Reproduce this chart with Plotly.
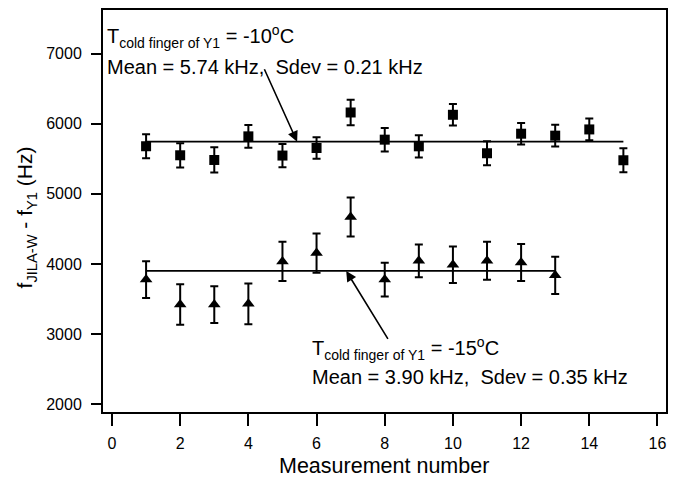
import plotly.graph_objects as go

# --- data ---
sq_x = list(range(1, 16))
sq_y = [5680, 5551, 5484, 5821, 5547, 5655, 6162, 5774, 5679, 6129, 5580, 5859, 5831, 5920, 5480]
sq_err = [170, 173, 180, 163, 166, 154, 182, 168, 159, 154, 170, 154, 156, 156, 173]

tri_x = list(range(1, 14))
tri_y = [3776, 3420, 3420, 3430, 4036, 4155, 4670, 3776, 4045, 3989, 4045, 4021, 3837]
tri_err = [263, 290, 263, 290, 280, 280, 277, 241, 234, 260, 270, 265, 265]

mean_sq = 5745
mean_tri = 3900

x_ticks = [0, 2, 4, 6, 8, 10, 12, 14, 16]
y_ticks = [2000, 3000, 4000, 5000, 6000, 7000]

FONT = "Liberation Sans, Arial, sans-serif"

fig = go.Figure()

fig.add_trace(go.Scatter(x=[sq_x[0], sq_x[-1]], y=[mean_sq, mean_sq], mode="lines",
                         line=dict(color="black", width=1.8), showlegend=False, hoverinfo="skip"))
fig.add_trace(go.Scatter(x=[tri_x[0], tri_x[-1]], y=[mean_tri, mean_tri], mode="lines",
                         line=dict(color="black", width=1.8), showlegend=False, hoverinfo="skip"))

fig.add_trace(go.Scatter(x=sq_x, y=sq_y, mode="markers",
                         marker=dict(symbol="square", size=10, color="black"),
                         error_y=dict(type="data", array=sq_err, visible=True, color="black",
                                      thickness=2, width=4),
                         showlegend=False))
fig.add_trace(go.Scatter(x=tri_x, y=tri_y, mode="markers",
                         marker=dict(symbol="triangle-up", size=11, color="black"),
                         error_y=dict(type="data", array=tri_err, visible=True, color="black",
                                      thickness=2, width=4),
                         showlegend=False))

ann_font = dict(family=FONT, size=20, color="black")
annotations = [
    dict(x=0.004, y=0.935, xref="paper", yref="paper", xanchor="left", yanchor="middle",
         text="T<sub>cold finger of Y1</sub> = -10<sup>o</sup>C", showarrow=False, font=ann_font),
    dict(x=0.004, y=0.857, xref="paper", yref="paper", xanchor="left", yanchor="middle",
         text="Mean = 5.74 kHz,  Sdev = 0.21 kHz", showarrow=False, font=ann_font),
    dict(x=0.368, y=0.158, xref="paper", yref="paper", xanchor="left", yanchor="middle",
         text="T<sub>cold finger of Y1</sub> = -15<sup>o</sup>C", showarrow=False, font=ann_font),
    dict(x=0.368, y=0.088, xref="paper", yref="paper", xanchor="left", yanchor="middle",
         text="Mean = 3.90 kHz,  Sdev = 0.35 kHz", showarrow=False, font=ann_font),
    # arrows
    dict(x=5.43, y=mean_sq, ax=4.45, ay=6800, xref="x", yref="y", axref="x", ayref="y",
         text="", showarrow=True, arrowhead=2, arrowsize=1.3, arrowwidth=1.6, arrowcolor="black"),
    dict(x=6.87, y=mean_tri, ax=8.12, ay=2909, xref="x", yref="y", axref="x", ayref="y",
         text="", showarrow=True, arrowhead=2, arrowsize=1.3, arrowwidth=1.6, arrowcolor="black"),
    # axis titles
    dict(x=0.499, y=-0.135, xref="paper", yref="paper", xanchor="center", yanchor="middle",
         text="Measurement number", showarrow=False, font=dict(family=FONT, size=21.5, color="black")),
    dict(x=-0.136, y=0.485, xref="paper", yref="paper", xanchor="center", yanchor="middle",
         text="f<sub>JILA-W</sub> - f<sub>Y1</sub> (Hz)", textangle=-90, showarrow=False,
         font=dict(family=FONT, size=21, color="black")),
]

fig.update_layout(
    width=677, height=478,
    margin=dict(l=103, r=11, t=8, b=66),
    paper_bgcolor="white", plot_bgcolor="white",
    font=dict(family=FONT, size=16, color="black"),
    annotations=annotations,
    hovermode=False,
    xaxis=dict(range=[-0.264, 16.25], tickvals=x_ticks, ticks="outside", ticklen=12, tickwidth=1.5,
               tickcolor="black", showline=True, linecolor="black", linewidth=2, mirror=True,
               showgrid=False, zeroline=False, ticklabelstandoff=4),
    yaxis=dict(range=[1886, 7625], tickvals=y_ticks, ticks="outside", ticklen=10, tickwidth=1.5,
               tickcolor="black", showline=True, linecolor="black", linewidth=2, mirror=True,
               showgrid=False, zeroline=False, ticklabelstandoff=6),
)

fig.write_html("out.html", config={"displayModeBar": False},
               post_script="document.body.style.margin='0';")
